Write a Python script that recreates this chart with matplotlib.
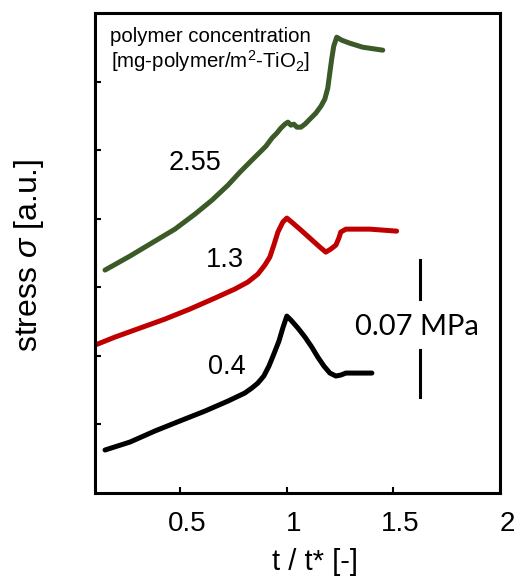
import matplotlib
matplotlib.use('Agg')
import matplotlib.pyplot as plt
import matplotlib.transforms as mtransforms

plt.rcParams['font.family'] = ['Liberation Sans', 'DejaVu Sans']
plt.rcParams['mathtext.fontset'] = 'custom'
plt.rcParams['mathtext.rm'] = 'Liberation Sans'
plt.rcParams['mathtext.it'] = 'Liberation Sans:italic'

# normalised time t/t* and stress (arbitrary units, 1 unit = 0.035 MPa)
t_040 = [0.147, 0.264, 0.381, 0.498, 0.616, 0.724, 0.803, 0.836, 0.864,
         0.892, 0.916, 0.939, 0.963, 0.981, 1.000, 1.019, 1.052, 1.085,
         1.117, 1.145, 1.174, 1.202, 1.230, 1.253, 1.277, 1.399]
s_040 = [0.627, 0.743, 0.904, 1.050, 1.195, 1.341, 1.458, 1.531, 1.603,
         1.706, 1.851, 2.026, 2.216, 2.405, 2.580, 2.522, 2.405, 2.274,
         2.128, 1.983, 1.851, 1.749, 1.706, 1.720, 1.749, 1.749]

t_130 = [0.100, 0.194, 0.311, 0.428, 0.545, 0.663, 0.756, 0.817, 0.864,
         0.897, 0.920, 0.939, 0.958, 0.981, 1.000, 1.023, 1.061, 1.108,
         1.155, 1.183, 1.206, 1.230, 1.244, 1.253, 1.277, 1.389, 1.515]
s_130 = [2.157, 2.274, 2.405, 2.536, 2.682, 2.843, 2.974, 3.076, 3.192,
         3.324, 3.440, 3.615, 3.805, 3.950, 4.009, 3.950, 3.848, 3.717,
         3.586, 3.513, 3.557, 3.615, 3.717, 3.805, 3.848, 3.848, 3.819]

t_255 = [0.147, 0.264, 0.381, 0.475, 0.569, 0.649, 0.724, 0.780, 0.836,
         0.874, 0.902, 0.930, 0.953, 0.972, 0.991, 1.005, 1.019, 1.033,
         1.047, 1.066, 1.085, 1.108, 1.136, 1.160, 1.178, 1.192, 1.202,
         1.211, 1.220, 1.234, 1.258, 1.295, 1.356, 1.450]
s_255 = [3.251, 3.455, 3.673, 3.848, 4.067, 4.271, 4.490, 4.679, 4.854,
         4.971, 5.058, 5.175, 5.248, 5.321, 5.379, 5.408, 5.364, 5.379,
         5.335, 5.335, 5.379, 5.452, 5.539, 5.641, 5.743, 5.904, 6.137,
         6.341, 6.516, 6.647, 6.603, 6.560, 6.501, 6.458]

series = [
    (t_040, s_040, '#000000', '0.4', 0.719, 1.84),
    (t_130, s_130, '#c00000', '1.3', 0.709, 3.40),
    (t_255, s_255, '#3b5a27', '2.55', 0.567, 4.81),
]

x_ticks = [0.5, 1, 1.5, 2]
x_ticklabels = ['0.5', '1', '1.5', '2']

fig = plt.figure(figsize=(5.15, 5.87), dpi=100)
ax = fig.add_axes([95 / 515, 94 / 587, 405 / 515, 480 / 587])

for t, s, color, label, lx, ly in series:
    ax.plot(t, s, color=color, lw=3.6, solid_capstyle='round',
            solid_joinstyle='round')
    ax.text(lx, ly, label, fontsize=19.5, ha='center', va='center')

# scale bar: 2 units = 0.07 MPa
ax.plot([1.627, 1.627], [3.40, 2.83], color='black', lw=2.2)
ax.plot([1.627, 1.627], [2.08, 1.40], color='black', lw=2.2)
ax.text(1.61, 2.42, '0.07 MPa', fontsize=21, ha='center', va='center',
        family=['Lato', 'DejaVu Sans'])

ax.text(0.037, 0.940, 'polymer concentration', transform=ax.transAxes,
        fontsize=14.7, va='baseline', ha='left')
ax.text(0.040, 0.885, r'[mg-polymer/m$^{2}$-TiO$_{2}$]', transform=ax.transAxes,
        fontsize=14.7, va='baseline', ha='left')

ax.set_xlim(0.1, 2.0)
ax.set_ylim(0, 7)
ax.set_xticks(x_ticks)
ax.set_xticklabels(x_ticklabels, fontsize=20)
ax.set_yticks(range(1, 7))
ax.set_yticklabels([])
ax.tick_params(direction='in', length=4, width=1.5, pad=13)
for sp in ax.spines.values():
    sp.set_linewidth(2.2)

shift = mtransforms.ScaledTranslation(7 / 100, 0, fig.dpi_scale_trans)
for lab in ax.get_xticklabels():
    lab.set_transform(lab.get_transform() + shift)

ax.set_xlabel('t / t* [-]', fontsize=21)
ax.xaxis.set_label_coords(0.543, -0.115)
ax.set_ylabel(r'stress $\sigma$ [a.u.]', fontsize=23)
ax.yaxis.set_label_coords(-0.12, 0.495)

fig.savefig('out.png', dpi=100)
